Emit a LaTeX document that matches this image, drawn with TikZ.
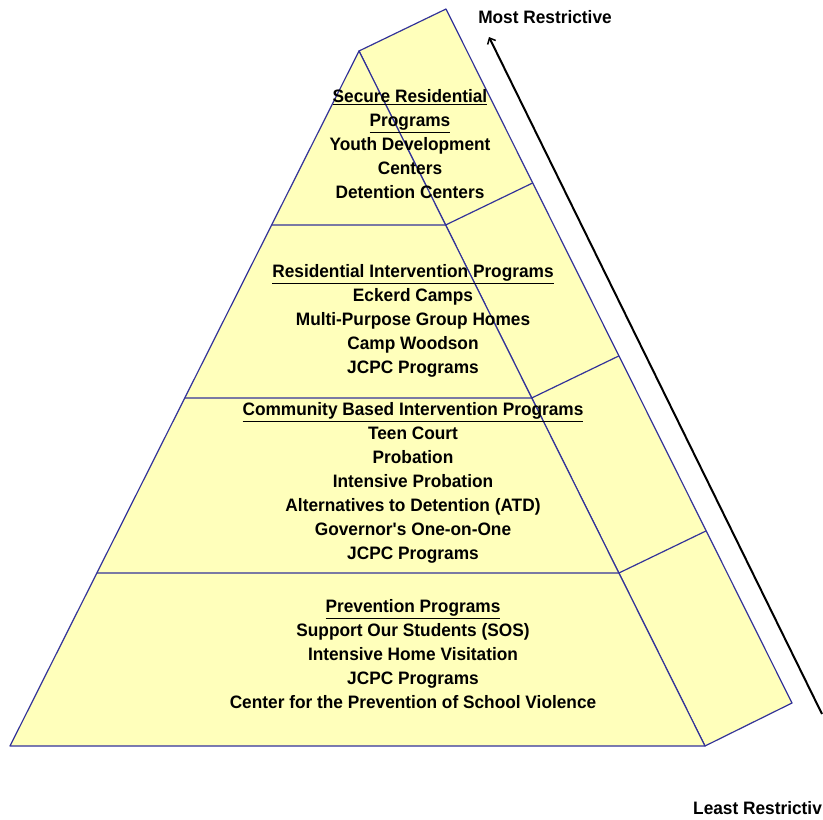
\documentclass[tikz,border=0pt]{standalone}
\usepackage{fontspec}
\setmainfont{Liberation Sans}[FakeStretch=0.96]
\usetikzlibrary{arrows.meta}
\definecolor{pyrfill}{HTML}{FFFFBB}
\definecolor{pyrline}{HTML}{333399}
\tikzset{
  face/.style={fill=pyrfill, draw=pyrline, line width=1.2pt, line join=round},
  edge/.style={draw=pyrline, line width=1.2pt},
  block/.style={align=center, anchor=north, inner sep=0pt, font=\bfseries\fontsize{18}{24}\selectfont},
  label/.style={inner sep=0pt, font=\bfseries\fontsize{18}{24}\selectfont},
  arrowline/.style={line width=2pt, -{Straight Barb[length=5pt,width=9pt,line width=1.5pt]}}
}
\begin{document}
\begin{tikzpicture}[x=1pt,y=-1pt]
\useasboundingbox (0,0) rectangle (823,820);
% corner points
\coordinate (A) at (359,51);
\coordinate (BL) at (10,746);
\coordinate (BR) at (705,746);
\coordinate (BT) at (446,9);
\coordinate (BB) at (792,703);
% divider points on the left and right edges of the front face
\coordinate (L1) at (271.6,225);
\coordinate (R1) at (445.6,225);
\coordinate (L2) at (184.8,398);
\coordinate (R2) at (531.7,398);
\coordinate (L3) at (96.9,573);
\coordinate (R3) at (618.9,573);
% divider points on the back edge
\coordinate (S1) at (532.6,183);
\coordinate (S2) at (618.7,356);
\coordinate (S3) at (705.9,531);
% faces
\path[face] (A) -- (BT) -- (BB) -- (BR) -- cycle;
\path[face] (A) -- (BL) -- (BR) -- cycle;
% dividers
\draw[edge] (L1) -- (R1) -- (S1);
\draw[edge] (L2) -- (R2) -- (S2);
\draw[edge] (L3) -- (R3) -- (S3);
% arrow
\coordinate (arrbot) at (822,714);
\coordinate (arrtop) at (489,37);
\draw[arrowline] (arrbot) -- (arrtop);
% texts
\node[label] (most) at (545,17) {Most Restrictive};
\node[label, anchor=west] (least) at (693,808) {Least Restrictiv};
\node[block] (sec) at (410,89.5) {\underline{Secure Residential}\\\underline{Programs}\\Youth Development\\Centers\\Detention Centers};
\node[block] (res) at (413,264.5) {\underline{Residential Intervention Programs}\\Eckerd Camps\\Multi-Purpose Group Homes\\Camp Woodson\\JCPC Programs};
\node[block] (com) at (413,402.5) {\underline{Community Based Intervention Programs}\\Teen Court\\Probation\\Intensive Probation\\Alternatives to Detention (ATD)\\Governor\textquotesingle s One-on-One\\JCPC Programs};
\node[block] (prev) at (413,599.5) {\underline{Prevention Programs}\\Support Our Students (SOS)\\Intensive Home Visitation\\JCPC Programs\\Center for the Prevention of School Violence};
\end{tikzpicture}
\end{document}
